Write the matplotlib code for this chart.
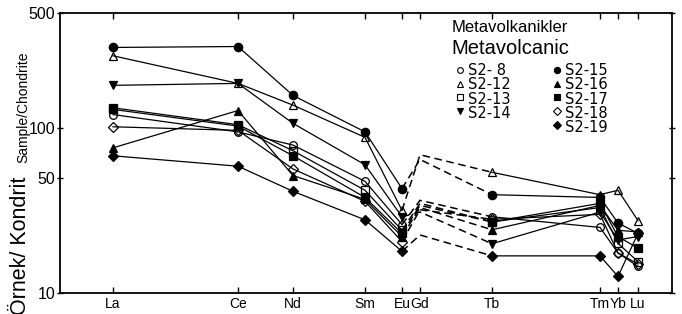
import matplotlib
matplotlib.use("Agg")
import matplotlib.pyplot as plt
from matplotlib.lines import Line2D
from matplotlib import font_manager

plt.rcParams['font.family'] = ['Liberation Sans', 'DejaVu Sans']
names = sorted({f.name for f in font_manager.fontManager.ttflist})
narrow = 'Liberation Sans Narrow' if 'Liberation Sans Narrow' in names else 'Liberation Sans'

elements = ["La", "Ce", "Nd", "Sm", "Eu", "Gd", "Tb", "Tm", "Yb", "Lu"]
element_pos = [113, 238, 293, 365, 402, 420, 492, 600, 618, 638]

samples = ["S2- 8", "S2-12", "S2-13", "S2-14", "S2-15", "S2-16", "S2-17", "S2-18", "S2-19"]
s2_8 = [121, 95, 79, 47.6, 26, 36.5, 29, 25, 17.5, 14.5]
s2_12 = [275, 187, 138, 88, 31.7, 69, 54, 39.5, 42, 27.5]
s2_13 = [133, 105, 73, 42, 24, 35, 27, 33, 20, 15.5]
s2_14 = [182, 187, 107, 60, 29, 31, 19.9, 31, 21, 22]
s2_15 = [309, 313, 158, 95, 43, 64.6, 39.5, 38, 26.6, 23]
s2_16 = [76, 128, 51.6, 37, 22, 33, 24.2, 34, 24, 23.5]
s2_17 = [130, 103, 68, 38, 23, 34, 27, 35, 22, 18.7]
s2_18 = [102, 97, 56.6, 36, 20.5, 32, 28, 30, 17.5, 15]
s2_19 = [68, 58.8, 41.4, 27.8, 17.9, 22.5, 16.8, 16.8, 12.6, 23]
series = [s2_8, s2_12, s2_13, s2_14, s2_15, s2_16, s2_17, s2_18, s2_19]

styles = [("o", "none"), ("^", "none"), ("s", "none"), ("v", "full"), ("o", "full"),
          ("^", "full"), ("s", "full"), ("D", "none"), ("D", "full")]
msizes = [5.5, 5.5, 5.5, 5.5, 6, 5.5, 5.5, 5, 5.5]

fig = plt.figure(figsize=(6.82, 3.14), dpi=100)
ax = fig.add_axes([60/682, 21/314, 612/682, 280/314])
ax.set_yscale("log")
ax.set_ylim(10, 500)
ax.set_xlim(60, 672)

gd = elements.index("Gd")
eu = elements.index("Eu")
for vals, (mk, fs), ms in zip(series, styles, msizes):
    xs = [element_pos[i] for i in range(len(elements)) if i != gd]
    ys = [vals[i] for i in range(len(elements)) if i != gd]
    kw = dict(color="black", lw=0.9, marker=mk, fillstyle=fs, markersize=ms,
              markeredgewidth=0.9, markerfacecolor="black" if fs == "full" else "white")
    ax.plot(xs[:eu+1], ys[:eu+1], **kw)
    ax.plot(xs[eu+1:], ys[eu+1:], **kw)
    ax.plot(element_pos[eu:gd+2], vals[eu:gd+2], color="black", lw=1.1, ls=(0, (5, 3)), zorder=1)

ax.set_yticks([10, 50, 100, 500])
ax.set_yticklabels(["10", "50", "100", "500"], fontsize=11.5, family=[narrow, 'DejaVu Sans'])
ax.minorticks_off()
ax.set_xticks(element_pos)
ax.set_xticklabels(elements, fontsize=10, family=[narrow, 'DejaVu Sans'])
ax.tick_params(axis="x", direction="in", top=True, length=4, width=1, pad=3)
ax.tick_params(axis="y", direction="inout", right=True, length=5, width=1, pad=1)
for sp in ax.spines.values():
    sp.set_linewidth(1.3)

fig.text(21/682, 1 - 246/314, "Örnek/ Kondrit", rotation=90, fontsize=15.5, ha="center", va="center",
         family=[narrow, 'DejaVu Sans'])
fig.text(23/682, 1 - 107/314, "Sample/Chondrite", rotation=90, fontsize=10, ha="center", va="center",
         family=[narrow, 'DejaVu Sans'])

fig.text(452/682, 1 - 28/314, "Metavolkanikler", fontsize=12, ha="left", va="center",
         family=['Liberation Sans', 'DejaVu Sans'])
fig.text(451/682, 1 - 49/314, "Metavolcanic", fontsize=14.5, ha="left", va="center",
         family=[narrow, 'DejaVu Sans'])

rows_y = [70, 83.7, 97.4, 111.1, 124.8]
cols = [(460, samples[:4]), (557, samples[4:])]
k = 0
for mx, names_col in cols:
    for j, name in enumerate(names_col):
        mk, fs = styles[k]
        ms = msizes[k]
        fig.add_artist(Line2D([mx/682], [1 - rows_y[j]/314], marker=mk, fillstyle=fs,
                              markersize=ms*0.75, color="black",
                              markerfacecolor="black" if fs == "full" else "white",
                              markeredgewidth=0.8, transform=fig.transFigure))
        k += 1
    fig.text((mx + 8)/682, 1 - (rows_y[0] - 7)/314, "\n".join(names_col), fontsize=10.5,
             ha="left", va="top", linespacing=0.94, family=['DejaVu Sans'])

fig.savefig("out.png", dpi=100)
